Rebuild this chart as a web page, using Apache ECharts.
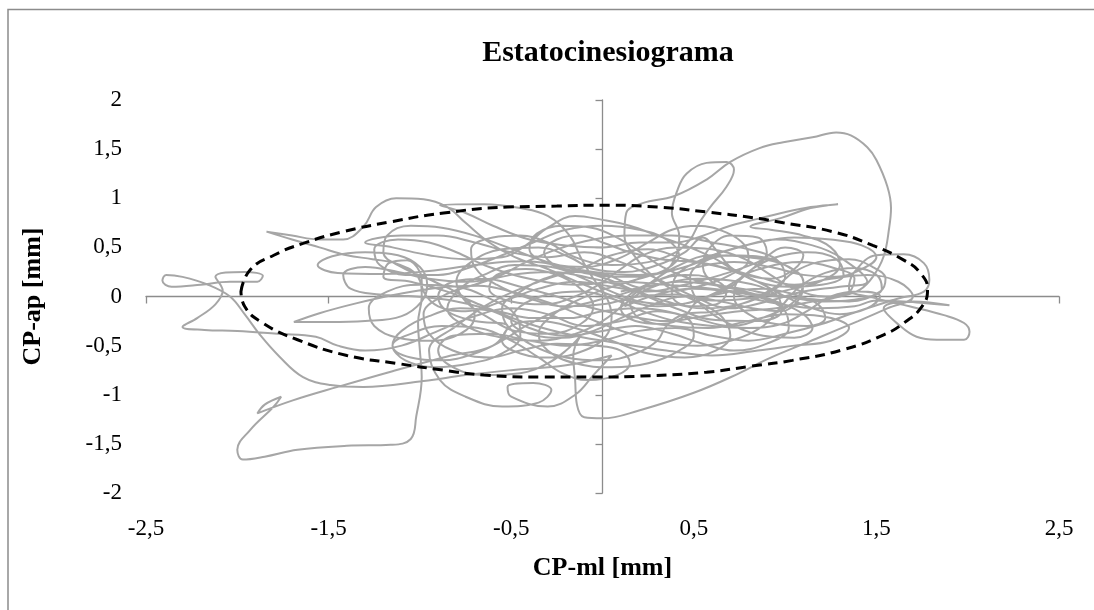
<!DOCTYPE html>
<html>
<head>
<meta charset="utf-8">
<title>Estatocinesiograma</title>
<script src="https://cdn.jsdelivr.net/npm/echarts@6/dist/echarts.min.js"></script>
<style>
  html, body { margin: 0; padding: 0; background: #fff; }
  #chart { width: 1094px; height: 610px; }
</style>
</head>
<body>
<div id="chart"></div>
<script>
// CP trajectory [ml, ap] in mm
const swayPath = [
  [0.10,0.05],[0.30,0.12],[0.52,0.18],[0.75,0.15],[0.95,0.02],[0.98,-0.15],[0.85,-0.25],[0.62,-0.24],[0.40,-0.12],[0.22,0.02],
  [0.02,0.18],[-0.20,0.30],[-0.45,0.36],[-0.70,0.32],[-0.95,0.26],[-1.20,0.23],[-1.45,0.24],[-1.56,0.32],[-1.48,0.41],[-1.30,0.45],
  [-1.12,0.42],[-1.00,0.30],[-0.96,0.12],[-0.99,-0.05],
  [-1.10,-0.20],[-1.30,-0.25],[-1.50,-0.26],[-1.69,-0.26],[-1.55,-0.17],[-1.35,-0.07],[-1.13,0.02],[-0.90,0.09],[-0.68,0.11],[-0.48,0.04],
  [-0.28,-0.07],[-0.08,-0.22],[0.12,-0.36],[0.32,-0.46],[0.52,-0.50],[0.72,-0.44],[0.88,-0.30],[0.98,-0.10],[1.08,0.10],[1.22,0.24],
  [1.38,0.29],[1.50,0.22],[1.53,0.08],[1.42,-0.02],[1.22,-0.05],[1.00,0.00],[0.76,0.08],[0.52,0.16],[0.33,0.30],[0.20,0.46],
  [0.08,0.60],[-0.06,0.70],[-0.22,0.72],[-0.36,0.64],[-0.40,0.48],[-0.30,0.34],[-0.10,0.24],[0.12,0.20],[0.32,0.24],
  [0.40,0.40],[0.42,0.62],[0.38,0.85],[0.41,1.08],[0.46,1.25],[0.57,1.36],[0.68,1.37],[0.72,1.29],[0.68,1.12],[0.59,0.91],
  [0.53,0.75],[0.48,0.58],[0.40,0.45],
  [0.25,0.35],[0.05,0.32],[-0.15,0.40],[-0.30,0.55],[-0.45,0.62],[-0.60,0.60],[-0.72,0.48],[-0.70,0.30],[-0.58,0.12],[-0.40,-0.02],
  [-0.20,-0.10],[0.00,-0.08],[0.20,0.00],[0.40,0.02],[0.60,-0.04],[0.80,-0.02],[1.00,0.06],[1.20,0.16],[1.30,0.32],[1.25,0.50],
  [1.10,0.62],[0.92,0.68],[0.81,0.71],[0.98,0.80],[1.14,0.90],[1.29,0.94],[1.14,0.91],[0.98,0.85],[0.85,0.79],[0.70,0.72],
  [0.55,0.62],[0.40,0.55],[0.20,0.55],[0.00,0.50],[-0.20,0.52],[-0.40,0.58],[-0.60,0.72],[-0.75,0.85],[-0.89,0.93],[-0.65,0.94],
  [-0.45,0.90],[-0.30,0.82],
  [-0.18,0.62],[-0.12,0.40],[-0.05,0.18],[0.02,0.00],[0.05,-0.20],[0.02,-0.40],[-0.10,-0.55],[-0.28,-0.62],[-0.45,-0.58],[-0.55,-0.45],
  [-0.50,-0.30],[-0.35,-0.25],[-0.15,-0.32],[0.05,-0.45],[0.25,-0.58],[0.45,-0.62],[0.62,-0.55],[0.70,-0.40],[0.66,-0.22],[0.55,-0.08],
  [0.40,0.05],
  [0.28,0.20],[0.18,0.40],[0.12,0.62],[0.13,0.85],[0.22,0.95],[0.39,1.02],[0.57,1.19],[0.70,1.37],[0.86,1.51],[0.99,1.57],
  [1.15,1.62],[1.28,1.67],[1.36,1.64],[1.45,1.52],[1.50,1.39],[1.56,1.12],[1.58,0.90],[1.57,0.70],[1.54,0.41],[1.48,0.20],
  [1.41,0.07],[1.30,0.00],[1.15,-0.05],
  [0.95,-0.12],[0.75,-0.15],[0.55,-0.20],[0.35,-0.25],[0.15,-0.20],[-0.05,-0.12],[-0.25,0.00],[-0.45,0.10],[-0.65,0.18],[-0.82,0.15],
  [-0.90,0.00],[-0.85,-0.15],[-0.70,-0.25],[-0.52,-0.30],
  [-0.60,-0.50],[-0.85,-0.61],[-1.15,-0.76],[-1.45,-0.92],[-1.70,-1.06],[-1.89,-1.19],[-1.85,-1.10],[-1.76,-1.02],[-1.80,-1.12],[-1.93,-1.36],
  [-2.00,-1.56],[-1.97,-1.66],[-1.85,-1.63],[-1.67,-1.56],[-1.40,-1.52],[-1.16,-1.51],[-1.05,-1.45],[-1.02,-1.22],[-0.99,-0.82],[-1.00,-0.55],
  [-1.01,-0.27],[-0.99,0.00],[-1.01,0.20],[-1.12,0.33],[-1.26,0.38],[-1.40,0.42],
  [-1.55,0.50],[-1.70,0.58],[-1.84,0.66],[-1.70,0.62],[-1.55,0.58],[-1.42,0.58],[-1.31,0.71],[-1.24,0.91],[-1.13,1.00],[-0.98,0.99],
  [-0.85,0.91],[-0.75,0.75],[-0.62,0.55],[-0.48,0.40],
  [-0.30,0.28],[-0.10,0.12],[0.10,-0.02],[0.30,-0.10],[0.50,-0.05],[0.68,0.10],[0.82,0.28],[0.90,0.45],[0.85,0.60],[0.70,0.62],
  [0.58,0.48],[0.55,0.30],[0.62,0.12],[0.78,0.00],[0.98,-0.08],[1.18,-0.12],[1.38,-0.10],[1.50,-0.04],
  [1.72,-0.06],[1.90,-0.09],[1.70,-0.05],[1.54,-0.12],[1.63,-0.30],[1.72,-0.41],[1.83,-0.44],[1.98,-0.44],[2.01,-0.36],[1.98,-0.27],
  [1.87,-0.19],[1.68,-0.10],[1.50,-0.02],[1.35,0.08],[1.38,0.25],[1.50,0.42],[1.65,0.43],[1.76,0.34],[1.79,0.17],[1.76,0.05],
  [1.62,-0.02],[1.40,-0.15],
  [1.20,-0.28],[1.00,-0.38],[0.80,-0.45],[0.60,-0.40],[0.40,-0.32],[0.20,-0.35],[0.00,-0.45],[-0.20,-0.50],[-0.40,-0.45],[-0.62,-0.38],
  [-0.82,-0.40],[-0.90,-0.55],[-0.82,-0.72],[-0.65,-0.80],[-0.45,-0.78],[-0.30,-0.68],
  [-0.20,-0.55],[-0.12,-0.40],[-0.16,-0.60],[-0.15,-0.85],[-0.14,-1.10],[-0.10,-1.23],[0.00,-1.24],[0.20,-1.16],[0.50,-0.98],[0.75,-0.78],
  [0.90,-0.64],[1.17,-0.43],[1.40,-0.25],[1.56,-0.12],[1.70,0.00],[1.62,0.15],[1.45,0.22],[1.25,0.18],[1.05,0.12],[0.85,0.20],
  [0.65,0.30],[0.45,0.38],[0.25,0.48],[0.05,0.42],[-0.10,0.30],
  [-0.35,0.15],[-0.60,-0.05],[-0.80,-0.30],[-0.95,-0.55],[-0.89,-0.85],[-0.75,-1.02],[-0.55,-1.12],[-0.35,-1.08],[-0.28,-0.95],[-0.38,-0.88],
  [-0.52,-0.92],[-0.50,-1.02],[-0.30,-1.12],[-0.15,-1.00],[-0.05,-0.80],[0.05,-0.60],
  [-0.20,-0.70],[-0.50,-0.75],[-0.75,-0.80],[-0.98,-0.86],
  [-1.31,-0.92],[-1.49,-0.90],[-1.64,-0.82],[-1.77,-0.61],[-1.88,-0.38],[-1.96,-0.18],[-2.04,0.00],[-2.16,0.12],[-2.30,0.20],[-2.39,0.22],
  [-2.41,0.16],[-2.36,0.10],[-2.20,0.12],[-2.04,0.15],[-1.89,0.15],[-1.86,0.21],[-1.96,0.25],[-2.12,0.20],[-2.08,0.06],[-2.12,-0.08],
  [-2.22,-0.22],[-2.30,-0.31],[-2.18,-0.34],[-2.00,-0.35],[-1.78,-0.38],[-1.57,-0.41],[-1.45,-0.50],[-1.30,-0.55],[-1.10,-0.50],
  [-0.90,-0.35],[-0.70,-0.20],[-0.50,-0.12],[-0.30,-0.18],[-0.10,-0.30],[0.10,-0.25],[0.30,-0.15],[0.50,-0.22],[0.70,-0.30],[0.90,-0.20],
  [1.05,-0.05],[1.10,0.15],[1.00,0.32],[0.80,0.40],[0.60,0.42],[0.40,0.30],[0.25,0.12],[0.15,-0.05],[0.20,-0.22],[0.38,-0.30],
  [0.58,-0.32],[0.80,-0.25],[1.00,-0.18],[1.20,-0.20],[1.35,-0.32],[1.25,-0.45],[1.05,-0.50],[0.85,-0.55],
  [0.60,-0.60],[0.35,-0.55],[0.10,-0.48],[-0.15,-0.40],[-0.40,-0.28],[-0.65,-0.10],[-0.85,0.05],[-1.05,0.15],[-1.20,0.20],[-1.17,0.34],
  [-1.07,0.37],[-1.00,0.25],[-0.98,0.05],[-0.90,-0.10],[-0.75,-0.15],[-0.55,-0.05],[-0.35,0.08],[-0.15,0.15],[0.05,0.10],[0.25,0.05],
  [0.45,0.12],[0.65,0.22],[0.85,0.35],[1.00,0.50],[1.10,0.42],[1.05,0.28],[0.92,0.18],[0.75,0.25],[0.60,0.40],[0.45,0.52],
  [0.30,0.62],[0.15,0.72],[0.00,0.78],[-0.15,0.82],[-0.30,0.70],[-0.42,0.52],[-0.55,0.40],[-0.75,0.38],[-0.95,0.42],[-1.15,0.50],
  [-1.30,0.55],[-1.10,0.62],[-0.90,0.62],[-0.70,0.55],[-0.50,0.45],[-0.30,0.40],[-0.10,0.45],[0.10,0.35],[0.30,0.18],[0.50,0.00],
  [0.70,-0.12],[0.90,-0.05],[1.10,0.05],[1.30,0.10],[1.45,0.15],[1.30,0.40],[1.15,0.52],[0.95,0.58],
  [0.75,0.50],[0.55,0.38],[0.40,0.20],[0.38,0.02],[0.48,-0.10],[0.62,-0.08],[0.68,0.05],[0.60,0.18],[0.45,0.22],[0.28,0.15],
  [0.15,0.02],[0.10,-0.12],[0.18,-0.25],[0.32,-0.28],[0.45,-0.20],[0.52,-0.05],[0.70,0.05],[0.88,0.08],[1.05,0.02],[1.18,-0.08],
  [1.22,-0.22],[1.12,-0.30],[0.95,-0.28],[0.80,-0.18],[0.72,0.00],[0.75,0.18],[0.90,0.30],[1.08,0.35],[1.25,0.30],[1.38,0.18],
  [1.35,0.05],[1.22,0.00],[1.05,0.08],[0.92,0.22],[0.78,0.38],[0.60,0.48],[0.40,0.50],[0.22,0.42],[0.10,0.28],[-0.02,0.12],
  [-0.15,0.00],[-0.32,-0.08],[-0.50,-0.05],[-0.62,0.08],[-0.58,0.22],[-0.42,0.28],[-0.25,0.22],[-0.12,0.08],[-0.05,-0.10],[-0.12,-0.28],
  [-0.30,-0.38],[-0.48,-0.35],[-0.62,-0.22],[-0.75,-0.05],[-0.80,0.15],[-0.72,0.35],[-0.55,0.48],[-0.35,0.50],[-0.18,0.40],[-0.05,0.28],
  [0.12,0.25],[0.30,0.32],[0.45,0.45],[0.55,0.60],[0.62,0.48],[0.70,0.30],[0.85,0.15],[1.02,0.10],[1.20,0.12],[1.32,0.22],
  [1.28,0.38],[1.12,0.45],[0.95,0.40],[0.82,0.28],[0.72,0.12],[0.58,0.00],[0.40,-0.08],[0.20,-0.05],[0.05,0.05],[-0.10,0.18],
  [-0.28,0.30],[-0.48,0.32],[-0.65,0.22],[-0.78,0.08],[-0.85,-0.12],[-0.75,-0.30],[-0.55,-0.42],[-0.35,-0.45],[-0.15,-0.38],[0.00,-0.25],
  [0.12,-0.08],[0.25,0.08],[0.42,0.15],[0.60,0.12],[0.78,0.05],[0.95,-0.05],[1.10,-0.18],[1.15,-0.32],[1.05,-0.42],[0.88,-0.40],
  [0.72,-0.30],[0.58,-0.15],[0.50,0.02],[0.48,0.20],[0.55,0.35],[0.70,0.42],[0.88,0.40],[1.02,0.30],[1.10,0.15],[1.08,-0.02],
  [0.98,-0.15],[0.82,-0.12],[0.65,-0.05],[0.45,0.00],[0.25,-0.10],[0.10,-0.22],[-0.05,-0.35],[-0.22,-0.42],[-0.40,-0.38],[-0.50,-0.25],
  [-0.45,-0.10],[-0.30,0.02],[-0.12,0.05],[0.05,-0.02],[0.22,-0.15],[0.40,-0.25],[0.60,-0.30],[0.80,-0.32],[0.98,-0.28],[1.12,-0.15],
  [1.25,0.00],[1.40,0.05],[1.52,0.00],[1.45,-0.12],[1.30,-0.18],[1.15,-0.12],[1.00,0.00],[0.85,0.15],[0.68,0.28],[0.50,0.35],
  [0.32,0.38],[0.15,0.45],[0.00,0.55],[-0.12,0.62],[-0.25,0.58],[-0.32,0.45],[-0.25,0.32],[-0.10,0.30],[0.08,0.38],[0.25,0.55],
  [0.38,0.68],[0.52,0.72],[0.68,0.65],[0.78,0.52],[0.80,0.38],[0.70,0.22],[0.52,0.10],[0.35,0.05],[0.18,0.10],[0.02,0.22],
  [-0.15,0.25],[-0.32,0.18],[-0.45,0.05],[-0.55,-0.12],[-0.52,-0.30],[-0.38,-0.50],[-0.20,-0.62],[0.00,-0.65],[0.18,-0.58],[0.30,-0.45],
  [0.35,-0.30],[0.45,-0.18],[0.62,-0.15],[0.80,-0.05],[0.95,0.10],[1.05,0.25],[1.18,0.35],[1.35,0.38],[1.48,0.30],[1.55,0.18],
  [1.52,0.05],[1.35,-0.05],[1.10,-0.02],[0.85,0.02],[0.60,0.08],[0.35,0.12],[0.10,0.15],[-0.15,0.12],[-0.40,0.18],[-0.62,0.30],
  [-0.80,0.45],[-0.95,0.55],[-1.12,0.58],[-1.25,0.48],[-1.22,0.32],[-1.08,0.22],[-0.90,0.22],[-0.72,0.30],[-0.55,0.42],[-0.38,0.55],
  [-0.20,0.68],[0.00,0.72],[0.20,0.68],[0.35,0.58],[0.42,0.42],[0.35,0.28],[0.20,0.18],[0.02,0.08],[-0.15,-0.05],[-0.28,-0.20],
  [-0.35,-0.38],[-0.30,-0.55],[-0.15,-0.68],[0.05,-0.72],[0.25,-0.68],[0.42,-0.55],[0.50,-0.40],[0.48,-0.25],[0.35,-0.15],[0.18,-0.12],
  [0.00,-0.15],[-0.18,-0.22],[-0.38,-0.22],[-0.58,-0.15],[-0.78,-0.12],[-0.95,-0.20],[-1.10,-0.35],[-1.15,-0.50],[-1.05,-0.62],[-0.88,-0.65],
  [-0.70,-0.58],[-0.55,-0.45],[-0.42,-0.30],[-0.25,-0.15],[-0.05,-0.05],[0.15,0.05],[0.35,0.20],[0.52,0.30],[0.72,0.35],[0.92,0.30],
  [1.10,0.22],[1.28,0.20],[1.42,0.28],[1.50,0.40],[1.42,0.52],[1.25,0.58],[1.05,0.60],[0.85,0.55],
  [0.65,0.45],[0.45,0.30],[0.20,0.22],[-0.05,0.25],[-0.30,0.35],[-0.52,0.50],[-0.70,0.62],[-0.88,0.70],[-1.05,0.72],[-1.18,0.62],
  [-1.20,0.45],[-1.10,0.30],[-0.92,0.15],[-0.75,-0.02],[-0.70,-0.20],[-0.78,-0.38],[-0.95,-0.45],[-1.12,-0.42],[-1.25,-0.30],[-1.28,-0.12],
  [-1.18,0.05],[-1.00,0.12],[-0.80,0.10],[-0.62,-0.02],[-0.48,-0.18],[-0.45,-0.40],[-0.55,-0.58],[-0.72,-0.68],[-0.92,-0.72],[-1.08,-0.65],
  [-1.15,-0.50],[-1.05,-0.38],[-0.88,-0.30],[-0.68,-0.32],[-0.50,-0.45],[-0.35,-0.62],[-0.22,-0.78],[-0.08,-0.85],[0.08,-0.80],[0.15,-0.68],
  [0.10,-0.55],[-0.05,-0.50],[-0.25,-0.48],[-0.45,-0.55],[-0.62,-0.62],[-0.82,-0.55],[-0.95,-0.38],[-0.98,-0.18],[-0.88,0.00],[-0.70,0.12],
  [-0.50,0.22],[-0.28,0.25],[-0.05,0.18],[0.15,0.08],[0.35,-0.05],[0.55,-0.12],[0.75,-0.08],[0.92,0.05],[1.00,0.20],[0.95,0.38],
  [0.80,0.48],[0.60,0.55],[0.38,0.62],[0.15,0.62],[-0.05,0.58],[-0.25,0.48],[-0.42,0.35],[-0.58,0.20],[-0.75,0.15],[-0.95,0.18],
  [-1.12,0.25],[-1.30,0.30],[-1.42,0.22],[-1.38,0.08],[-1.22,0.02],[-1.02,0.00],[-0.80,-0.05],[-0.60,-0.15],[-0.40,-0.32],[-0.20,-0.40],
  [0.00,-0.35],[0.18,-0.30],[0.38,-0.38],[0.55,-0.48],[0.72,-0.55],[0.90,-0.48],[1.02,-0.32],[1.00,-0.15],[0.88,-0.02],[0.70,0.05],
  [0.50,0.08],[0.30,0.02],[0.12,-0.10]
];

// dashed confidence ellipse
const ellipsePath = [
  [-1.98,0.05],[-1.93,0.27],[-1.80,0.42],[-1.64,0.54],[-1.42,0.66],[-1.16,0.76],[-0.87,0.85],[-0.52,0.91],[-0.25,0.92],[-0.01,0.93],
  [0.30,0.91],[0.57,0.86],[0.83,0.80],[0.99,0.75],[1.26,0.66],[1.48,0.52],[1.65,0.37],[1.74,0.24],[1.78,0.07],[1.75,-0.10],
  [1.65,-0.27],[1.54,-0.39],[1.32,-0.54],[1.04,-0.65],[0.81,-0.71],[0.57,-0.77],[0.21,-0.81],[-0.01,-0.82],[-0.34,-0.82],[-0.65,-0.80],
  [-0.87,-0.75],[-1.13,-0.68],[-1.40,-0.60],[-1.67,-0.44],[-1.86,-0.27],[-1.96,-0.10],[-1.98,0.05]
];

const xRange = [-2.5, 2.5];
const yRange = [-2, 2];

const serif = "'Liberation Serif', 'Times New Roman', serif";
const axisGray = '#8c8c8c';
const comma = function (v) { return String(v).replace('.', ','); };

let myChart = echarts.init(document.getElementById('chart'), null, {renderer: 'canvas'});
myChart.setOption({
    animation: false,
    backgroundColor: '#fff',
    title: {
        text: 'Estatocinesiograma',
        left: 603,
        top: 33,
        textAlign: 'center',
        textStyle: {fontFamily: serif, fontSize: 30, fontWeight: 'bold', color: '#000'}
    },
    graphic: [{
        type: 'rect',
        shape: {x: 8, y: 9.5, width: 2000, height: 2000},
        style: {fill: 'none', stroke: axisGray, lineWidth: 1.5},
        silent: true
    }],
    grid: {left: 146, right: 35, top: 100, bottom: 117, containLabel: false},
    xAxis: [{
        type: 'value', min: xRange[0], max: xRange[1], interval: 1,
        position: 'bottom',
        axisLine: {show: false, onZero: false},
        axisTick: {show: false},
        splitLine: {show: false},
        axisLabel: {formatter: comma, fontFamily: serif, fontSize: 23, color: '#000', margin: 24},
        name: 'CP-ml [mm]',
        nameLocation: 'middle',
        nameGap: 62,
        nameTextStyle: {fontFamily: serif, fontSize: 26, fontWeight: 'bold', color: '#000'}
    }, {
        type: 'value', min: xRange[0], max: xRange[1], interval: 1,
        position: 'top',
        axisLine: {show: true, onZero: true, onZeroAxisIndex: 0, lineStyle: {color: axisGray, width: 1.3}},
        axisTick: {show: true, inside: true, length: 7, lineStyle: {color: axisGray, width: 1.3}},
        axisLabel: {show: false},
        splitLine: {show: false}
    }],
    yAxis: [{
        type: 'value', min: yRange[0], max: yRange[1], interval: 0.5,
        position: 'left',
        axisLine: {show: false, onZero: false},
        axisTick: {show: false},
        splitLine: {show: false},
        axisLabel: {formatter: comma, fontFamily: serif, fontSize: 23, color: '#000', margin: 24},
        name: 'CP-ap [mm]',
        nameLocation: 'middle',
        nameRotate: 90,
        nameGap: 100,
        nameTextStyle: {fontFamily: serif, fontSize: 26, fontWeight: 'bold', color: '#000'}
    }, {
        type: 'value', min: yRange[0], max: yRange[1], interval: 0.5,
        position: 'right',
        axisLine: {show: true, onZero: true, onZeroAxisIndex: 0, lineStyle: {color: axisGray, width: 1.3}},
        axisTick: {show: true, inside: true, length: 7, lineStyle: {color: axisGray, width: 1.3}},
        axisLabel: {show: false},
        splitLine: {show: false}
    }],
    series: [{
        name: 'CP',
        type: 'line',
        xAxisIndex: 0,
        yAxisIndex: 0,
        data: swayPath,
        smooth: 0.4,
        showSymbol: false,
        lineStyle: {color: '#a6a6a6', width: 2},
        z: 2
    }, {
        name: 'Elipse',
        type: 'line',
        xAxisIndex: 0,
        yAxisIndex: 0,
        data: ellipsePath,
        smooth: 0.5,
        showSymbol: false,
        lineStyle: {color: '#000', width: 3, type: [10, 6]},
        z: 3
    }]
});
</script>
</body>
</html>
